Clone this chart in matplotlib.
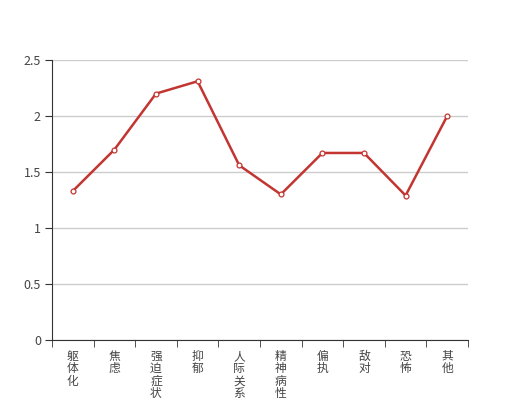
import matplotlib
matplotlib.use("Agg")
import matplotlib.pyplot as plt
import numpy as np

plt.rcParams['font.family'] = ['Noto Sans CJK SC', 'DejaVu Sans']

# data
categories = ["躯体化", "焦虑", "强迫症状", "抑郁", "人际关系敏感",
              "精神病性", "偏执", "敌对", "恐怖", "其他"]
scores = [1.33, 1.7, 2.2, 2.31, 1.56, 1.3, 1.67, 1.67, 1.29, 2.0]
yticks = [0, 0.5, 1, 1.5, 2, 2.5]

fig = plt.figure(figsize=(5.2, 4), dpi=100)
ax = fig.add_axes([0.1, 0.15, 0.8, 0.7])

x = np.arange(len(categories))
ax.plot(x, scores, color='#c23531', lw=1.8, marker='o', ms=3.5,
        mfc='white', mec='#c23531', mew=0.9, zorder=3)

ax.set_xlim(-0.5, len(categories) - 0.5)
ax.set_ylim(0, 2.5)
ax.set_yticks(yticks)
ax.set_yticklabels([f"{v:g}" for v in yticks])
ax.yaxis.grid(True, color='#cccccc', lw=1)
ax.set_axisbelow(True)

# vertical labels, one character per line
ax.set_xticks(x)
ax.set_xticklabels(["\n".join(c) for c in categories], linespacing=0.95,
                   va='top')
ax.set_xticks(np.arange(-0.5, len(categories)), minor=True)
ax.tick_params(axis='x', which='major', length=0, pad=7, labelsize=8.5,
               labelcolor='#444444')
ax.tick_params(axis='x', which='minor', length=5, color='#333333')
ax.tick_params(axis='y', length=5, color='#333333', labelsize=9,
               labelcolor='#444444', pad=3)

for s in ['top', 'right']:
    ax.spines[s].set_visible(False)
for s in ['left', 'bottom']:
    ax.spines[s].set_color('#333333')

fig.savefig("out.png", dpi=100)
